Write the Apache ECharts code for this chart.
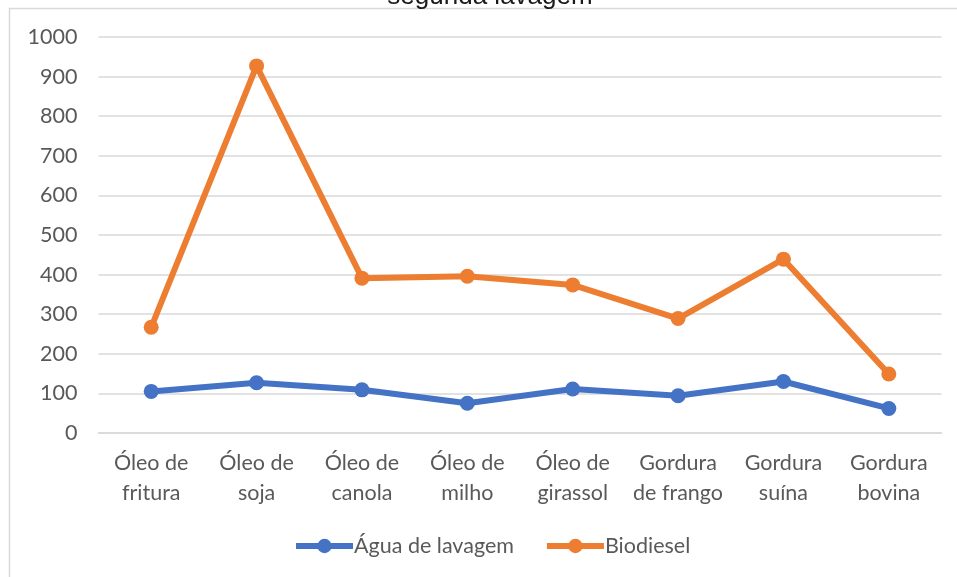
<!DOCTYPE html>
<html>
<head>
<meta charset="utf-8">
<script src="https://cdn.jsdelivr.net/npm/echarts@6/dist/echarts.min.js"></script>
<style>html,body{margin:0;padding:0;background:#fff}#c{width:957px;height:577px}</style>
</head>
<body>
<div id="c"></div>
<script>
const categories = ['Óleo de\nfritura','Óleo de\nsoja','Óleo de\ncanola','Óleo de\nmilho','Óleo de\ngirassol','Gordura\nde frango','Gordura\nsuína','Gordura\nbovina'];
const aguaValues = [105, 127, 109, 75, 111, 94, 130, 62];
const biodieselValues = [267, 927, 391, 396, 374, 289, 439, 149];
const seriesNames = ['Água de lavagem', 'Biodiesel'];
const titleText = 'segunda lavagem';

const font = 'Lato, "Open Sans", sans-serif';
const chart = echarts.init(document.getElementById('c'));
chart.setOption({
  backgroundColor: '#ffffff',
  animation: false,
  graphic: [
    {type:'rect', shape:{x:9.5, y:8.5, width:1000, height:1000}, style:{fill:'none', stroke:'#d9d9d9', lineWidth:1.5}, z:0},
    {type:'text', x:490, y:10, z:5, style:{text:titleText, font:'26px "Liberation Sans", Arial, sans-serif', fill:'#1a1a1a', align:'center', verticalAlign:'bottom'}}
  ],
  grid: {left: 98.5, right: 15.5, top: 37, bottom: 144},
  legend: {
    data: seriesNames,
    bottom: 15,
    left: 288,
    itemWidth: 57,
    itemHeight: 18,
    itemGap: 30,
    lineStyle: {width: 6},
    textStyle: {color: '#595959', fontSize: 21.5, fontFamily: font, padding:[0,0,0,-4]}
  },
  xAxis: {
    type: 'category',
    data: categories,
    boundaryGap: true,
    axisLine: {lineStyle: {color: '#d9d9d9', width: 1.5}},
    axisTick: {show: false},
    axisLabel: {color: '#595959', fontSize: 21.5, fontFamily: font, lineHeight: 30, margin: 15, interval: 0}
  },
  yAxis: {
    type: 'value',
    min: 0, max: 1000, interval: 100,
    axisLine: {show: false},
    axisTick: {show: false},
    splitLine: {lineStyle: {color: '#d9d9d9', width: 1.5}},
    axisLabel: {color: '#595959', fontSize: 21.5, fontFamily: font, margin: 21, formatter: function (v) { return String(v); }}
  },
  series: [
    {name: seriesNames[0], type: 'line', data: aguaValues, color: '#4472C4', symbol: 'circle', symbolSize: 15, lineStyle: {width: 6}},
    {name: seriesNames[1], type: 'line', data: biodieselValues, color: '#ED7D31', symbol: 'circle', symbolSize: 15, lineStyle: {width: 6}}
  ]
});
</script>
</body>
</html>
